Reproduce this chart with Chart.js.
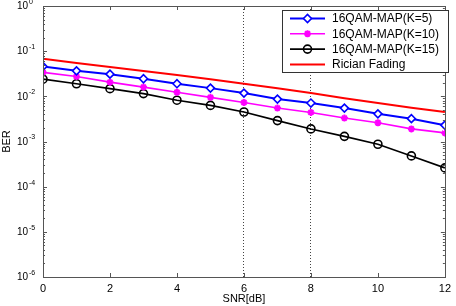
<!DOCTYPE html>
<html>
<head>
<meta charset="utf-8">
<script src="https://cdn.jsdelivr.net/npm/chart.js@4.4.1/dist/chart.umd.min.js"></script>
<style>
  html, body { margin: 0; padding: 0; background: #fff; }
  #wrap { width: 456px; height: 306px; }
</style>
</head>
<body>
<div id="wrap"><canvas id="berChart" width="456" height="306"></canvas></div>
<script>
// SNR in dB
const snr = [0, 1, 2, 3, 4, 5, 6, 7, 8, 9, 10, 11, 12];

// BER curves
const berK5 = [0.046, 0.0367, 0.031, 0.0245, 0.019, 0.0152, 0.0118, 0.0087, 0.0071, 0.0055, 0.0041, 0.0032, 0.0023];
const berK10 = [0.034, 0.0275, 0.0206, 0.016, 0.0123, 0.0095, 0.0073, 0.0055, 0.0044, 0.0033, 0.0026, 0.0019, 0.00155];
const berK15 = [0.024, 0.019, 0.0148, 0.0115, 0.0082, 0.0063, 0.0045, 0.0029, 0.0019, 0.0013, 0.00087, 0.00048, 0.00026];
const berRician = [0.0676, 0.055, 0.0447, 0.0363, 0.0295, 0.024, 0.019, 0.0151, 0.0118, 0.0091, 0.0071, 0.0056, 0.0045];

const xTicks = [0, 2, 4, 6, 8, 10, 12];
const yExponents = [0, -1, -2, -3, -4, -5, -6];
const gridAt = [6, 8];

const FONT = '"Liberation Sans", Arial, Helvetica, sans-serif';

const toPoints = arr => arr.map((v, i) => ({ x: snr[i], y: v }));

// MATLAB-style box, inward ticks and superscript y labels
const axesPlugin = {
    id: 'matlabAxes',
    afterDatasetsDraw(chart) {
        const ctx = chart.ctx;
        const a = chart.chartArea;
        const xs = chart.scales.x, ys = chart.scales.y;
        ctx.save();
        ctx.strokeStyle = '#555';
        ctx.lineWidth = 1;
        ctx.strokeRect(Math.round(a.left) + 0.5, Math.round(a.top) + 0.5,
            Math.round(a.right - a.left), Math.round(a.bottom - a.top));

        ctx.beginPath();
        xTicks.forEach(t => {
            const px = Math.round(xs.getPixelForValue(t)) + 0.5;
            ctx.moveTo(px, a.bottom); ctx.lineTo(px, a.bottom - 4);
            ctx.moveTo(px, a.top); ctx.lineTo(px, a.top + 4);
        });
        yExponents.forEach(e => {
            const base = Math.pow(10, e);
            const py = Math.round(ys.getPixelForValue(base)) + 0.5;
            ctx.moveTo(a.left, py); ctx.lineTo(a.left + 4, py);
            ctx.moveTo(a.right, py); ctx.lineTo(a.right - 4, py);
            if (e > -6) {
                for (let m = 2; m <= 9; m++) {
                    const q = Math.round(ys.getPixelForValue(base / 10 * m)) + 0.5;
                    ctx.moveTo(a.left, q); ctx.lineTo(a.left + 2, q);
                    ctx.moveTo(a.right, q); ctx.lineTo(a.right - 2, q);
                }
            }
        });
        ctx.stroke();

        ctx.fillStyle = '#000';
        ctx.textBaseline = 'middle';
        ctx.textAlign = 'left';
        yExponents.forEach(e => {
            const py = ys.getPixelForValue(Math.pow(10, e));
            ctx.font = '10px ' + FONT;
            ctx.fillText('10', 17, py + 0.5);
            ctx.font = '7px ' + FONT;
            ctx.fillText(e === 0 ? '0' : '-' + (-e), 29, py - 4);
        });
        ctx.restore();
    }
};

// Boxed legend with line + marker samples
const legendPlugin = {
    id: 'boxLegend',
    afterDraw(chart) {
        const ctx = chart.ctx;
        const x0 = 282, y0 = 10, w = 166, h = 62;
        ctx.save();
        ctx.fillStyle = '#fff';
        ctx.fillRect(x0, y0, w, h);
        ctx.strokeStyle = '#333';
        ctx.lineWidth = 1;
        ctx.strokeRect(x0 + 0.5, y0 + 0.5, w, h);
        chart.data.datasets.forEach((ds, i) => {
            const y = 18.5 + i * 15.3;
            ctx.strokeStyle = ds.borderColor;
            ctx.lineWidth = ds.borderWidth;
            ctx.beginPath();
            ctx.moveTo(290, y); ctx.lineTo(325, y);
            ctx.stroke();
            if (ds.pointRadius > 0) {
                ctx.fillStyle = ds.pointBackgroundColor;
                ctx.strokeStyle = ds.borderColor;
                ctx.lineWidth = ds.pointBorderWidth;
                Chart.helpers.drawPoint(ctx, {
                    pointStyle: ds.pointStyle, radius: ds.pointRadius,
                    borderWidth: ds.pointBorderWidth, rotation: 0
                }, 307.5, y);
            }
            ctx.fillStyle = '#000';
            ctx.font = '12px ' + FONT;
            ctx.textBaseline = 'middle';
            ctx.textAlign = 'left';
            ctx.fillText(ds.label, 332, y + 0.5);
        });
        ctx.restore();
    }
};

const ctx = document.getElementById('berChart').getContext('2d');

let chart = new Chart(ctx, {
    type: 'line',
    data: {
        datasets: [
            {
                label: '16QAM-MAP(K=5)',
                data: toPoints(berK5),
                borderColor: '#0000ff',
                borderWidth: 2,
                pointStyle: 'rectRot',
                pointRadius: 4,
                pointBorderWidth: 1.6,
                pointBackgroundColor: '#ffffff',
                pointBorderColor: '#0000ff'
            },
            {
                label: '16QAM-MAP(K=10)',
                data: toPoints(berK10),
                borderColor: '#ff00ff',
                borderWidth: 1.6,
                pointStyle: 'star',
                pointRadius: 3.5,
                pointBorderWidth: 2,
                pointBackgroundColor: '#ff00ff',
                pointBorderColor: '#ff00ff'
            },
            {
                label: '16QAM-MAP(K=15)',
                data: toPoints(berK15),
                borderColor: '#000000',
                borderWidth: 1.6,
                pointStyle: 'circle',
                pointRadius: 4,
                pointBorderWidth: 1.6,
                pointBackgroundColor: 'rgba(255,255,255,0)',
                pointBorderColor: '#000000'
            },
            {
                label: 'Rician Fading',
                data: toPoints(berRician),
                borderColor: '#ff0000',
                borderWidth: 2,
                pointRadius: 0,
                pointBorderWidth: 0,
                pointBackgroundColor: '#ff0000'
            }
        ]
    },
    options: {
        responsive: false,
        animation: false,
        devicePixelRatio: 1,
        layout: { padding: { top: 4, right: 6, left: 0, bottom: 0 } },
        plugins: { legend: { display: false }, tooltip: { enabled: false } },
        elements: { line: { tension: 0 } },
        scales: {
            x: {
                type: 'linear',
                min: 0,
                max: 12,
                afterBuildTicks: s => { s.ticks = xTicks.map(v => ({ value: v })); },
                afterFit: s => { s.height = 29; },
                border: { display: false, dash: [1, 2] },
                grid: {
                    drawTicks: false,
                    color: c => gridAt.includes(c.tick && c.tick.value) ? '#444' : 'rgba(0,0,0,0)',
                    lineWidth: 1
                },
                ticks: {
                    padding: 5,
                    color: '#000',
                    font: { family: FONT, size: 11 },
                    maxRotation: 0
                },
                title: {
                    display: true,
                    text: 'SNR[dB]',
                    color: '#000',
                    font: { family: FONT, size: 11 },
                    padding: { top: 0, bottom: 0 }
                }
            },
            y: {
                type: 'logarithmic',
                min: 1e-6,
                max: 1,
                afterFit: s => { s.width = 43; },
                border: { display: false },
                grid: { display: false },
                ticks: { display: false },
                title: {
                    display: true,
                    text: 'BER',
                    color: '#000',
                    font: { family: FONT, size: 11 },
                    padding: { top: 0, bottom: 0 }
                }
            }
        }
    },
    plugins: [axesPlugin, legendPlugin]
});
</script>
</body>
</html>
